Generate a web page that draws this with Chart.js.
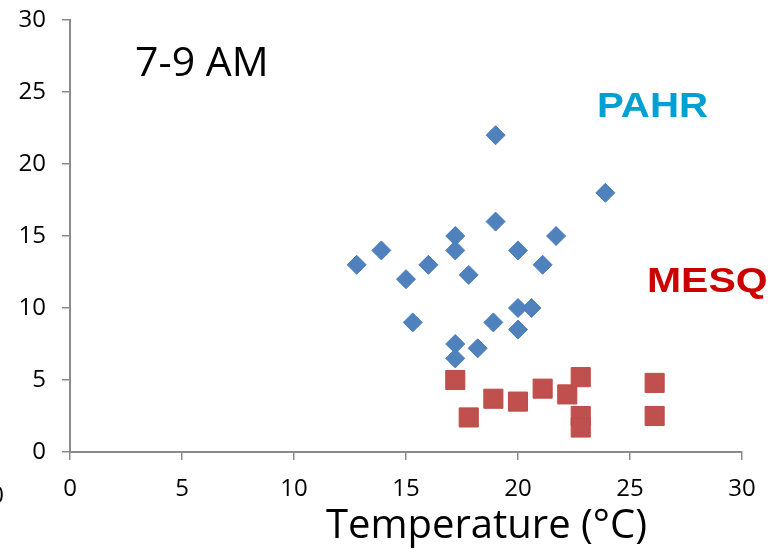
<!DOCTYPE html>
<html>
<head>
<meta charset="utf-8">
<script src="https://cdn.jsdelivr.net/npm/chart.js"></script>
<style>
  html, body { margin: 0; padding: 0; background: #fff; }
  canvas { display: block; }
</style>
</head>
<body>
<canvas id="chartScatter" width="781" height="553"></canvas>
<script>
// values
var pahrTemp = [12.8, 13.9, 15.0, 16.0, 15.3, 17.2, 17.2, 17.8, 17.2, 17.2, 18.2, 18.9, 19.0, 19.0, 20.0, 20.0, 20.6, 20.0, 21.1, 21.7, 23.9]
var pahrVal  = [13, 14, 12, 13, 9, 15, 14, 12.3, 7.5, 6.5, 7.2, 9, 22, 16, 14, 10, 10, 8.5, 13, 15, 18]

var mesqTemp = [17.2, 17.8, 18.9, 20.0, 21.1, 22.2, 22.8, 22.8, 22.8, 26.1, 26.1]
var mesqVal  = [5.0, 2.4, 3.7, 3.5, 4.4, 4.0, 5.2, 2.5, 1.7, 4.8, 2.5]

var xTicks = [0, 5, 10, 15, 20, 25, 30]
var yTicks = [0, 5, 10, 15, 20, 25, 30]

var axisGray = '#8a8a8a'
var tickFont = { family: 'Open Sans', size: 24 }

function toPoints(xs, ys) {
    var pts = []
    for (var i = 0; i < xs.length; i++) {
        pts.push({ x: xs[i], y: ys[i] })
    }
    return pts
}

function drawLabel(ctx, text, x, y, font, color, sx) {
    ctx.save()
    ctx.font = font
    ctx.fillStyle = color
    ctx.textBaseline = 'alphabetic'
    ctx.translate(x, y)
    ctx.scale(sx || 1, 1)
    ctx.fillText(text, 0, 0)
    ctx.restore()
}

// free-standing texts of the slide
const textPlugin = {
    id: 'texts',
    afterDraw(chart) {
        const ctx = chart.ctx
        drawLabel(ctx, '7-9 AM', 135, 76, '41px "Open Sans"', '#000')
        drawLabel(ctx, 'PAHR', 597, 117, 'bold 35px "Liberation Sans"', '#00A0D2', 1.15)
        drawLabel(ctx, 'MESQ', 647, 292, 'bold 35px "Liberation Sans"', '#CC0000', 1.17)
        drawLabel(ctx, 'Temperature (°C)', 326, 538, '40px "Open Sans"', '#000')
        ctx.save()
        ctx.font = '24px "Open Sans"'
        ctx.fillStyle = '#000'
        ctx.textAlign = 'right'
        ctx.fillText('0', 4, 503)
        ctx.restore()
    }
}

const ctx = document.getElementById('chartScatter').getContext('2d')
const chartScatter = new Chart(ctx, {
    type: 'scatter',
    data: {
        datasets: [{
            label: 'PAHR',
            data: toPoints(pahrTemp, pahrVal),
            pointStyle: 'rectRot',
            pointRadius: 9.5,
            backgroundColor: '#4F81BD',
            borderColor: '#4A7EBB',
            borderWidth: 1
        }, {
            label: 'MESQ',
            data: toPoints(mesqTemp, mesqVal),
            pointStyle: 'rect',
            pointRadius: 13.5,
            backgroundColor: '#C0504D',
            borderColor: '#BE4B48',
            borderWidth: 1
        }]
    },
    options: {
        responsive: false,
        animation: false,
        layout: { padding: { top: 20, right: 39, left: 0, bottom: 0 } },
        plugins: {
            legend: { display: false },
            tooltip: { enabled: false }
        },
        scales: {
            x: {
                type: 'linear',
                min: 0,
                max: 30,
                afterBuildTicks: function (scale) {
                    scale.ticks = xTicks.map(function (v) { return { value: v } })
                },
                afterFit: function (scale) {
                    scale.height = 101
                    scale.paddingLeft = 0
                    scale.paddingRight = 0
                },
                ticks: { font: tickFont, color: '#000', padding: 15, maxRotation: 0 },
                grid: { display: true, drawOnChartArea: false, tickLength: 8, color: axisGray, lineWidth: 1.5 },
                border: { display: true, color: axisGray, width: 2 }
            },
            y: {
                type: 'linear',
                min: 0,
                max: 30,
                afterBuildTicks: function (scale) {
                    scale.ticks = yTicks.map(function (v) { return { value: v } })
                },
                afterFit: function (scale) {
                    scale.width = 70
                    scale.paddingTop = 0
                    scale.paddingBottom = 0
                },
                ticks: { font: tickFont, color: '#000', padding: 16 },
                grid: { display: true, drawOnChartArea: false, tickLength: 8, color: axisGray, lineWidth: 1.5 },
                border: { display: true, color: axisGray, width: 2 }
            }
        }
    },
    plugins: [textPlugin]
})
</script>
</body>
</html>
